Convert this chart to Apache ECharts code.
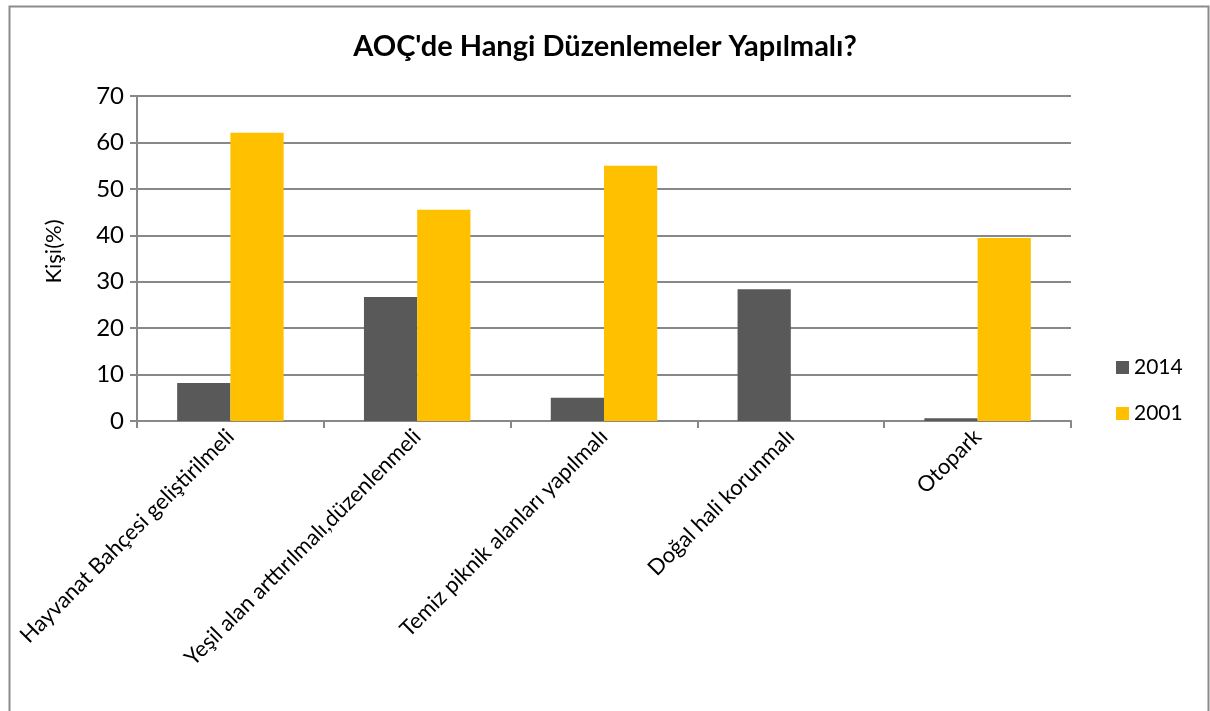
<!DOCTYPE html>
<html>
<head>
<meta charset="utf-8">
<script src="https://cdn.jsdelivr.net/npm/echarts@6/dist/echarts.min.js"></script>
<style>
html,body{margin:0;padding:0;background:#fff;}
#chart{width:1210px;height:711px;}
</style>
</head>
<body>
<div id="chart"></div>
<script>
const categories = ["Hayvanat Bahçesi geliştirilmeli", "Yeşil alan arttırılmalı,düzenlenmeli", "Temiz piknik alanları yapılmalı", "Doğal hali korunmalı", "Otopark"];
const values2014 = [8.2, 26.7, 5.0, 28.4, 0.6];
const values2001 = [62.1, 45.5, 55.0, 0, 39.4];
const seriesNames = ["2014", "2001"];
const yTicks = { min: 0, max: 70, interval: 10 };

const font = "Lato, 'Open Sans', sans-serif";
const chart = echarts.init(document.getElementById('chart'), null, { renderer: 'canvas' });
chart.setOption({
  animation: false,
  backgroundColor: '#ffffff',
  title: {
    text: "AOÇ'de Hangi Düzenlemeler Yapılmalı?",
    left: 'center', top: 27,
    textStyle: { fontFamily: font, fontWeight: 'bold', fontSize: 29, color: '#000' }
  },
  graphic: [{
    type: 'rect', left: 7, top: 4,
    shape: { width: 1199, height: 720 },
    style: { fill: 'none', stroke: '#8c8c8c', lineWidth: 2 },
    silent: true
  }],
  legend: {
    orient: 'vertical', left: 1111, top: 352,
    itemWidth: 13, itemHeight: 13, itemGap: 25,
    icon: 'rect',
    textStyle: { fontFamily: font, fontSize: 21, color: '#000' },
    data: seriesNames
  },
  grid: { left: 137, right: 139, top: 96, bottom: 290, containLabel: false },
  xAxis: {
    type: 'category', data: categories,
    axisLine: { lineStyle: { color: '#888', width: 2 } },
    axisTick: { show: true, length: 7, lineStyle: { color: '#888', width: 2 } },
    axisLabel: { rotate: 45, margin: 12, fontFamily: font, fontSize: 22, color: '#000', interval: 0 }
  },
  yAxis: {
    type: 'value', min: yTicks.min, max: yTicks.max, interval: yTicks.interval,
    name: 'Kişi(%)', nameLocation: 'middle', nameGap: 72, nameRotate: 90,
    nameTextStyle: { fontFamily: font, fontSize: 22, color: '#000', padding: [0, 0, 0, 14] },
    axisLine: { show: true, lineStyle: { color: '#888', width: 2 } },
    axisTick: { show: true, length: 7, lineStyle: { color: '#888', width: 2 } },
    axisLabel: { fontFamily: font, fontSize: 24, color: '#000', margin: 13 },
    splitLine: { show: true, lineStyle: { color: '#888', width: 2 } }
  },
  series: [
    { name: seriesNames[0], type: 'bar', data: values2014, barGap: '0%', barCategoryGap: '43%',
      itemStyle: { color: '#595959' } },
    { name: seriesNames[1], type: 'bar', data: values2001, barGap: '0%', barCategoryGap: '43%',
      itemStyle: { color: '#FFC000' } }
  ]
});
</script>
</body>
</html>
